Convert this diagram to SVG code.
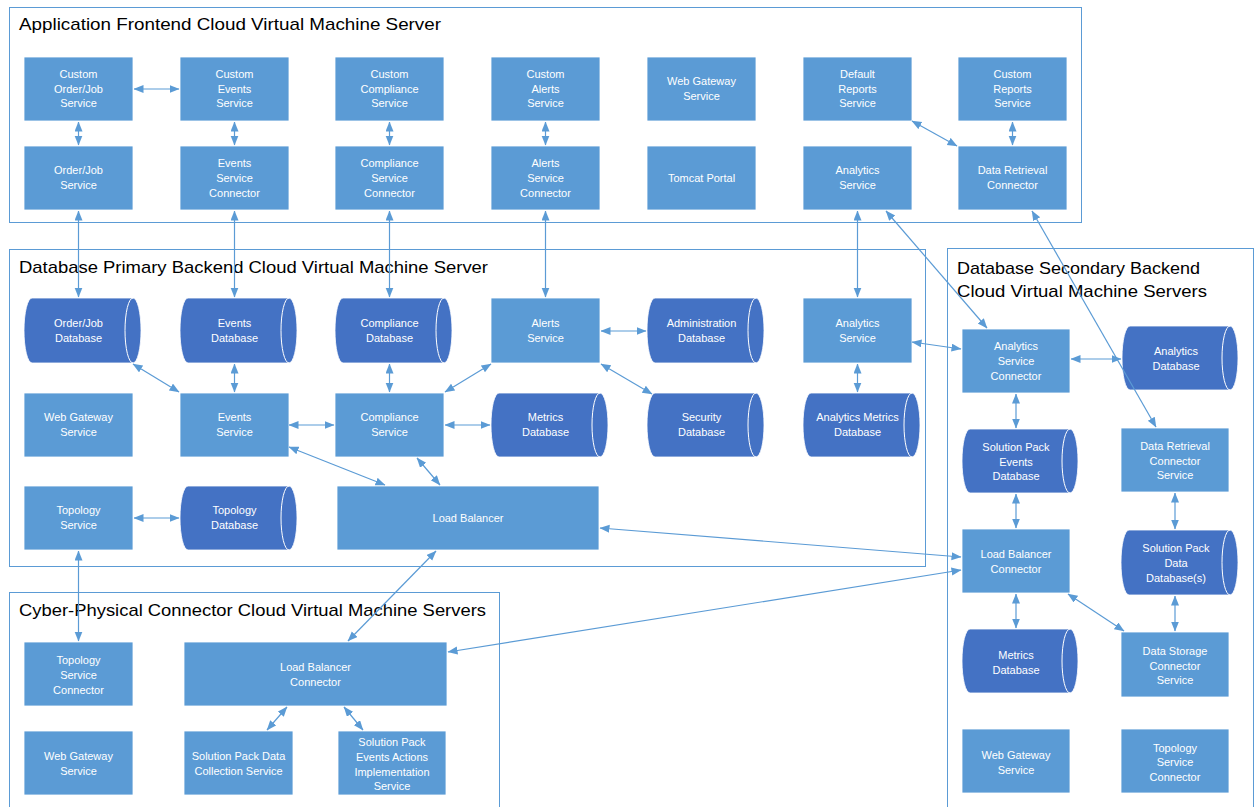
<svg xmlns="http://www.w3.org/2000/svg" width="1259" height="807" viewBox="0 0 1259 807">
  <style>
    .zone { fill: none; stroke: #5B9BD5; stroke-width: 1; }
    .zt { font-family: "Liberation Sans", Arial, sans-serif; font-size: 17px; fill: #000; }
    .svc { fill: #5B9BD5; stroke: #ffffff; stroke-width: 0.8; }
    .db { fill: #4472C4; stroke: #ffffff; stroke-width: 0.8; }
    .dbrim { fill: none; stroke: #ffffff; stroke-width: 1; }
    .lbl { font-family: "Liberation Sans", Arial, sans-serif; font-size: 11px; fill: #ffffff; text-anchor: middle; }
    .cn { fill: none; stroke: #5B9BD5; stroke-width: 1.2; marker-start: url(#ah); marker-end: url(#ah); }
  </style>
  <defs>
    <marker id="ah" markerUnits="userSpaceOnUse" markerWidth="10" markerHeight="9" refX="9.5" refY="4" orient="auto-start-reverse">
      <path d="M0,0 L10,4 L0,8 Z" fill="#5B9BD5"/>
    </marker>
  </defs>

  <rect width="1259" height="807" fill="#ffffff"/>

  <!-- server zones -->
  <g id="zones">
    <rect class="zone" x="9.5" y="7.5" width="1072" height="215"/>
    <text class="zt" x="19" y="30" textLength="422" lengthAdjust="spacingAndGlyphs">Application Frontend Cloud Virtual Machine Server</text>
    <rect class="zone" x="9.5" y="249.5" width="916" height="317"/>
    <text class="zt" x="19" y="273" textLength="469" lengthAdjust="spacingAndGlyphs">Database Primary Backend Cloud Virtual Machine Server</text>
    <rect class="zone" x="947.5" y="248.5" width="306" height="570"/>
    <text class="zt" x="957" y="274" textLength="243" lengthAdjust="spacingAndGlyphs">Database Secondary Backend</text>
    <text class="zt" x="957" y="297" textLength="250" lengthAdjust="spacingAndGlyphs">Cloud Virtual Machine Servers</text>
    <rect class="zone" x="9.5" y="592.5" width="490" height="230"/>
    <text class="zt" x="19" y="616" textLength="467" lengthAdjust="spacingAndGlyphs">Cyber-Physical Connector Cloud Virtual Machine Servers</text>
  </g>

  <!-- frontend services -->
  <g id="custom-orderjob-service"><rect class="svc" x="24" y="57" width="109" height="64"/><text class="lbl" x="78.5" y="78">Custom</text><text class="lbl" x="78.5" y="93">Order/Job</text><text class="lbl" x="78.5" y="107">Service</text></g>
  <g id="custom-events-service"><rect class="svc" x="180" y="57" width="109" height="64"/><text class="lbl" x="234.5" y="78">Custom</text><text class="lbl" x="234.5" y="93">Events</text><text class="lbl" x="234.5" y="107">Service</text></g>
  <g id="custom-compliance-service"><rect class="svc" x="335" y="57" width="109" height="64"/><text class="lbl" x="389.5" y="78">Custom</text><text class="lbl" x="389.5" y="93">Compliance</text><text class="lbl" x="389.5" y="107">Service</text></g>
  <g id="custom-alerts-service"><rect class="svc" x="491" y="57" width="109" height="64"/><text class="lbl" x="545.5" y="78">Custom</text><text class="lbl" x="545.5" y="93">Alerts</text><text class="lbl" x="545.5" y="107">Service</text></g>
  <g id="fe-web-gateway"><rect class="svc" x="647" y="57" width="109" height="64"/><text class="lbl" x="701.5" y="85">Web Gateway</text><text class="lbl" x="701.5" y="100">Service</text></g>
  <g id="default-reports-service"><rect class="svc" x="803" y="57" width="109" height="64"/><text class="lbl" x="857.5" y="78">Default</text><text class="lbl" x="857.5" y="93">Reports</text><text class="lbl" x="857.5" y="107">Service</text></g>
  <g id="custom-reports-service"><rect class="svc" x="958" y="57" width="109" height="64"/><text class="lbl" x="1012.5" y="78">Custom</text><text class="lbl" x="1012.5" y="93">Reports</text><text class="lbl" x="1012.5" y="107">Service</text></g>

  <g id="orderjob-service"><rect class="svc" x="24" y="146" width="109" height="64"/><text class="lbl" x="78.5" y="174">Order/Job</text><text class="lbl" x="78.5" y="189">Service</text></g>
  <g id="events-service-connector"><rect class="svc" x="180" y="146" width="109" height="64"/><text class="lbl" x="234.5" y="167">Events</text><text class="lbl" x="234.5" y="182">Service</text><text class="lbl" x="234.5" y="197">Connector</text></g>
  <g id="compliance-service-connector"><rect class="svc" x="335" y="146" width="109" height="64"/><text class="lbl" x="389.5" y="167">Compliance</text><text class="lbl" x="389.5" y="182">Service</text><text class="lbl" x="389.5" y="197">Connector</text></g>
  <g id="alerts-service-connector"><rect class="svc" x="491" y="146" width="109" height="64"/><text class="lbl" x="545.5" y="167">Alerts</text><text class="lbl" x="545.5" y="182">Service</text><text class="lbl" x="545.5" y="197">Connector</text></g>
  <g id="tomcat-portal"><rect class="svc" x="647" y="146" width="109" height="64"/><text class="lbl" x="701.5" y="182">Tomcat Portal</text></g>
  <g id="fe-analytics-service"><rect class="svc" x="803" y="146" width="109" height="64"/><text class="lbl" x="857.5" y="174">Analytics</text><text class="lbl" x="857.5" y="189">Service</text></g>
  <g id="data-retrieval-connector"><rect class="svc" x="958" y="146" width="109" height="64"/><text class="lbl" x="1012.5" y="174">Data Retrieval</text><text class="lbl" x="1012.5" y="189">Connector</text></g>

  <!-- primary backend -->
  <g id="orderjob-db"><path class="db" d="M32,298 L133,298 A8,32.5 0 0 1 133,363 L32,363 A8,32.5 0 0 1 32,298 Z"/><path class="dbrim" d="M133,298 A8,32.5 0 0 0 133,363"/><text class="lbl" x="78.5" y="327">Order/Job</text><text class="lbl" x="78.5" y="342">Database</text></g>
  <g id="events-db"><path class="db" d="M188,298 L289,298 A8,32.5 0 0 1 289,363 L188,363 A8,32.5 0 0 1 188,298 Z"/><path class="dbrim" d="M289,298 A8,32.5 0 0 0 289,363"/><text class="lbl" x="234.5" y="327">Events</text><text class="lbl" x="234.5" y="342">Database</text></g>
  <g id="compliance-db"><path class="db" d="M343,298 L444,298 A8,32.5 0 0 1 444,363 L343,363 A8,32.5 0 0 1 343,298 Z"/><path class="dbrim" d="M444,298 A8,32.5 0 0 0 444,363"/><text class="lbl" x="389.5" y="327">Compliance</text><text class="lbl" x="389.5" y="342">Database</text></g>
  <g id="alerts-service"><rect class="svc" x="491" y="298" width="109" height="65"/><text class="lbl" x="545.5" y="327">Alerts</text><text class="lbl" x="545.5" y="342">Service</text></g>
  <g id="administration-db"><path class="db" d="M655,298 L756,298 A8,32.5 0 0 1 756,363 L655,363 A8,32.5 0 0 1 655,298 Z"/><path class="dbrim" d="M756,298 A8,32.5 0 0 0 756,363"/><text class="lbl" x="701.5" y="327">Administration</text><text class="lbl" x="701.5" y="342">Database</text></g>
  <g id="be-analytics-service"><rect class="svc" x="803" y="298" width="109" height="65"/><text class="lbl" x="857.5" y="327">Analytics</text><text class="lbl" x="857.5" y="342">Service</text></g>

  <g id="be-web-gateway"><rect class="svc" x="24" y="393" width="109" height="64"/><text class="lbl" x="78.5" y="421">Web Gateway</text><text class="lbl" x="78.5" y="436">Service</text></g>
  <g id="events-service"><rect class="svc" x="180" y="393" width="109" height="64"/><text class="lbl" x="234.5" y="421">Events</text><text class="lbl" x="234.5" y="436">Service</text></g>
  <g id="compliance-service"><rect class="svc" x="335" y="393" width="109" height="64"/><text class="lbl" x="389.5" y="421">Compliance</text><text class="lbl" x="389.5" y="436">Service</text></g>
  <g id="be-metrics-db"><path class="db" d="M499,393 L600,393 A8,32 0 0 1 600,457 L499,457 A8,32 0 0 1 499,393 Z"/><path class="dbrim" d="M600,393 A8,32 0 0 0 600,457"/><text class="lbl" x="545.5" y="421">Metrics</text><text class="lbl" x="545.5" y="436">Database</text></g>
  <g id="security-db"><path class="db" d="M655,393 L756,393 A8,32 0 0 1 756,457 L655,457 A8,32 0 0 1 655,393 Z"/><path class="dbrim" d="M756,393 A8,32 0 0 0 756,457"/><text class="lbl" x="701.5" y="421">Security</text><text class="lbl" x="701.5" y="436">Database</text></g>
  <g id="analytics-metrics-db"><path class="db" d="M811,393 L912,393 A8,32 0 0 1 912,457 L811,457 A8,32 0 0 1 811,393 Z"/><path class="dbrim" d="M912,393 A8,32 0 0 0 912,457"/><text class="lbl" x="857.5" y="421">Analytics Metrics</text><text class="lbl" x="857.5" y="436">Database</text></g>

  <g id="topology-service"><rect class="svc" x="24" y="486" width="109" height="64"/><text class="lbl" x="78.5" y="514">Topology</text><text class="lbl" x="78.5" y="529">Service</text></g>
  <g id="topology-db"><path class="db" d="M188,486 L289,486 A8,32 0 0 1 289,550 L188,550 A8,32 0 0 1 188,486 Z"/><path class="dbrim" d="M289,486 A8,32 0 0 0 289,550"/><text class="lbl" x="234.5" y="514">Topology</text><text class="lbl" x="234.5" y="529">Database</text></g>
  <g id="load-balancer"><rect class="svc" x="337" y="486" width="262" height="64"/><text class="lbl" x="468" y="522">Load Balancer</text></g>

  <!-- secondary backend -->
  <g id="analytics-service-connector"><rect class="svc" x="962" y="329" width="108" height="64"/><text class="lbl" x="1016" y="350">Analytics</text><text class="lbl" x="1016" y="365">Service</text><text class="lbl" x="1016" y="380">Connector</text></g>
  <g id="analytics-db"><path class="db" d="M1130,326 L1230,326 A8,32 0 0 1 1230,390 L1130,390 A8,32 0 0 1 1130,326 Z"/><path class="dbrim" d="M1230,326 A8,32 0 0 0 1230,390"/><text class="lbl" x="1176" y="355">Analytics</text><text class="lbl" x="1176" y="370">Database</text></g>
  <g id="sp-events-db"><path class="db" d="M970,429 L1070,429 A8,32 0 0 1 1070,493 L970,493 A8,32 0 0 1 970,429 Z"/><path class="dbrim" d="M1070,429 A8,32 0 0 0 1070,493"/><text class="lbl" x="1016" y="451">Solution Pack</text><text class="lbl" x="1016" y="466">Events</text><text class="lbl" x="1016" y="480">Database</text></g>
  <g id="data-retrieval-connector-service"><rect class="svc" x="1121" y="428" width="108" height="64"/><text class="lbl" x="1175" y="450">Data Retrieval</text><text class="lbl" x="1175" y="465">Connector</text><text class="lbl" x="1175" y="479">Service</text></g>
  <g id="sec-load-balancer-connector"><rect class="svc" x="962" y="529" width="108" height="64"/><text class="lbl" x="1016" y="558">Load Balancer</text><text class="lbl" x="1016" y="573">Connector</text></g>
  <g id="sp-data-db"><path class="db" d="M1129,530 L1230,530 A8,32.5 0 0 1 1230,595 L1129,595 A8,32.5 0 0 1 1129,530 Z"/><path class="dbrim" d="M1230,530 A8,32.5 0 0 0 1230,595"/><text class="lbl" x="1176" y="552">Solution Pack</text><text class="lbl" x="1176" y="567">Data</text><text class="lbl" x="1176" y="582">Database(s)</text></g>
  <g id="sec-metrics-db"><path class="db" d="M970,629 L1070,629 A8,32 0 0 1 1070,693 L970,693 A8,32 0 0 1 970,629 Z"/><path class="dbrim" d="M1070,629 A8,32 0 0 0 1070,693"/><text class="lbl" x="1016" y="659">Metrics</text><text class="lbl" x="1016" y="674">Database</text></g>
  <g id="data-storage-connector-service"><rect class="svc" x="1121" y="632" width="108" height="65"/><text class="lbl" x="1175" y="655">Data Storage</text><text class="lbl" x="1175" y="670">Connector</text><text class="lbl" x="1175" y="684">Service</text></g>
  <g id="sec-web-gateway"><rect class="svc" x="962" y="729" width="108" height="64"/><text class="lbl" x="1016" y="759">Web Gateway</text><text class="lbl" x="1016" y="774">Service</text></g>
  <g id="sec-topology-service-connector"><rect class="svc" x="1121" y="729" width="108" height="64"/><text class="lbl" x="1175" y="752">Topology</text><text class="lbl" x="1175" y="766">Service</text><text class="lbl" x="1175" y="781">Connector</text></g>

  <!-- cyber-physical connectors -->
  <g id="cp-topology-service-connector"><rect class="svc" x="24" y="642" width="109" height="64"/><text class="lbl" x="78.5" y="664">Topology</text><text class="lbl" x="78.5" y="679">Service</text><text class="lbl" x="78.5" y="694">Connector</text></g>
  <g id="cp-load-balancer-connector"><rect class="svc" x="184" y="642" width="263" height="64"/><text class="lbl" x="315.5" y="671">Load Balancer</text><text class="lbl" x="315.5" y="686">Connector</text></g>
  <g id="cp-web-gateway"><rect class="svc" x="24" y="731" width="109" height="64"/><text class="lbl" x="78.5" y="760">Web Gateway</text><text class="lbl" x="78.5" y="775">Service</text></g>
  <g id="sp-data-collection"><rect class="svc" x="184" y="731" width="109" height="64"/><text class="lbl" x="238.5" y="760">Solution Pack Data</text><text class="lbl" x="238.5" y="775">Collection Service</text></g>
  <g id="sp-events-actions"><rect class="svc" x="338" y="731" width="108" height="64"/><text class="lbl" x="392" y="746">Solution Pack</text><text class="lbl" x="392" y="761">Events Actions</text><text class="lbl" x="392" y="776">Implementation</text><text class="lbl" x="392" y="790">Service</text></g>

  <!-- connectors -->
  <g id="connectors">
    <line class="cn" x1="134" y1="89" x2="179" y2="89"/>
    <line class="cn" x1="78.5" y1="122" x2="78.5" y2="145"/>
    <line class="cn" x1="234.5" y1="122" x2="234.5" y2="145"/>
    <line class="cn" x1="389.5" y1="122" x2="389.5" y2="145"/>
    <line class="cn" x1="545.5" y1="122" x2="545.5" y2="145"/>
    <line class="cn" x1="1012.5" y1="122" x2="1012.5" y2="145"/>
    <line class="cn" x1="912" y1="121" x2="957" y2="146"/>

    <line class="cn" x1="78.5" y1="211" x2="78.5" y2="297"/>
    <line class="cn" x1="234.5" y1="211" x2="234.5" y2="297"/>
    <line class="cn" x1="389.5" y1="211" x2="389.5" y2="297"/>
    <line class="cn" x1="545.5" y1="211" x2="545.5" y2="297"/>
    <line class="cn" x1="857.5" y1="211" x2="857.5" y2="297"/>
    <line class="cn" x1="886" y1="211" x2="987" y2="328"/>
    <line class="cn" x1="1032" y1="211" x2="1156" y2="427"/>

    <line class="cn" x1="133" y1="364" x2="179" y2="392"/>
    <line class="cn" x1="234.5" y1="364" x2="234.5" y2="392"/>
    <line class="cn" x1="389.5" y1="364" x2="389.5" y2="392"/>
    <line class="cn" x1="289" y1="425" x2="334" y2="425"/>
    <line class="cn" x1="445" y1="392" x2="491" y2="364"/>
    <line class="cn" x1="445" y1="425" x2="490" y2="425"/>
    <line class="cn" x1="601" y1="331" x2="646" y2="331"/>
    <line class="cn" x1="601" y1="364" x2="652" y2="394"/>
    <line class="cn" x1="289" y1="447" x2="385" y2="485"/>
    <line class="cn" x1="417" y1="458" x2="440" y2="485"/>
    <line class="cn" x1="857.5" y1="364" x2="857.5" y2="392"/>
    <line class="cn" x1="912" y1="342" x2="961" y2="349"/>
    <line class="cn" x1="134" y1="518" x2="179" y2="518"/>
    <line class="cn" x1="78.5" y1="551" x2="78.5" y2="641"/>
    <line class="cn" x1="600" y1="528" x2="961" y2="557"/>
    <line class="cn" x1="436" y1="551" x2="348" y2="641"/>
    <line class="cn" x1="448" y1="652" x2="961" y2="570"/>

    <line class="cn" x1="1071" y1="359" x2="1121" y2="359"/>
    <line class="cn" x1="1016" y1="394" x2="1016" y2="428"/>
    <line class="cn" x1="1016" y1="494" x2="1016" y2="528"/>
    <line class="cn" x1="1175" y1="493" x2="1175" y2="529"/>
    <line class="cn" x1="1016" y1="594" x2="1016" y2="628"/>
    <line class="cn" x1="1175" y1="596" x2="1175" y2="631"/>
    <line class="cn" x1="1068" y1="594" x2="1124" y2="631"/>

    <line class="cn" x1="287" y1="707" x2="267" y2="730"/>
    <line class="cn" x1="344" y1="707" x2="363" y2="730"/>
  </g>
</svg>
